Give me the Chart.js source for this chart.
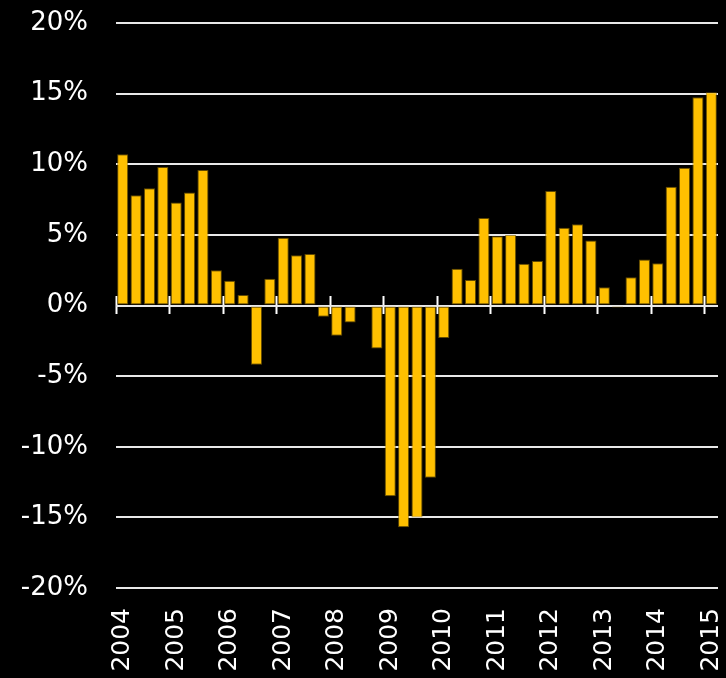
<!DOCTYPE html>
<html>
<head>
<meta charset="utf-8">
<script src="https://cdn.jsdelivr.net/npm/chart.js@4"></script>
<style>
html, body { margin: 0; padding: 0; background: #000; }
#wrap { width: 726px; height: 678px; }
</style>
</head>
<body>
<div id="wrap"><canvas id="growthChart" width="726" height="678"></canvas></div>
<script>
const years = ['2004', '2005', '2006', '2007', '2008', '2009', '2010', '2011', '2012', '2013', '2014', '2015'];
const quarters = ['Q1', 'Q2', 'Q3', 'Q4'];
const growth = [
    10.7, 7.8, 8.3, 9.8,
    7.3, 8.0, 9.6, 2.5,
    1.75, 0.75, -4.2, 1.9,
    4.8, 3.55, 3.65, -0.8,
    -2.15, -1.2, 0, -3.05,
    -13.5, -15.7, -15.0, -12.2,
    -2.3, 2.6, 1.8, 6.2,
    4.9, 5.0, 2.95, 3.15,
    8.1, 5.5, 5.75, 4.6,
    1.3, -0.15, 2.0, 3.25,
    3.0, 8.4, 9.75, 14.75,
    15.1
];
const yTicks = [-20, -15, -10, -5, 0, 5, 10, 15, 20];

const labels = [];
years.forEach(y => quarters.forEach(q => labels.push(y + ' ' + q)));
labels.length = growth.length;

const font = { family: 'DejaVu Sans', size: 26 };
const ctx = document.getElementById('growthChart').getContext('2d');

new Chart(ctx, {
    type: 'bar',
    data: {
        labels: labels,
        datasets: [{
            data: growth,
            backgroundColor: '#FFC000',
            borderColor: 'rgba(140, 105, 0, 0.7)',
            borderWidth: 1,
            borderSkipped: false,
            barPercentage: 0.83,
            categoryPercentage: 1.0
        }]
    },
    options: {
        responsive: false,
        animation: false,
        layout: { padding: 0 },
        plugins: {
            legend: { display: false },
            tooltip: { enabled: false }
        },
        scales: {
            x: {
                type: 'category',
                position: 'bottom',
                offset: true,
                grid: { display: false, offset: true },
                border: { display: false },
                ticks: {
                    color: '#fff',
                    font: { family: 'DejaVu Sans', size: 25 },
                    autoSkip: false,
                    minRotation: 90,
                    maxRotation: 90,
                    padding: 12,
                    callback: (v, i) => i % 4 === 0 ? labels[i].slice(0, 4) : ''
                },
                afterFit: s => { s.height = 90; s.paddingLeft = 0; s.paddingRight = 8; }
            },
            zero: {
                type: 'category',
                axis: 'x',
                position: { y: 0.64 },
                offset: true,
                grid: {
                    offset: true,
                    drawOnChartArea: false,
                    drawTicks: true,
                    tickLength: 18,
                    tickWidth: 2,
                    tickColor: c => c.index % 4 === 0 ? '#fff' : 'rgba(0,0,0,0)'
                },
                border: { display: false },
                ticks: { display: false }
            },
            y: {
                min: -20,
                max: 20,
                afterBuildTicks: s => { s.ticks = yTicks.map(v => ({ value: v })); },
                grid: { color: '#e8e8e8', lineWidth: 2, drawTicks: false },
                border: { display: false },
                ticks: {
                    color: '#fff',
                    font: font,
                    padding: 28,
                    callback: v => v + '%'
                },
                afterFit: s => { s.width = 116; s.paddingTop = 23; s.paddingBottom = 0; }
            }
        }
    }
});
</script>
</body>
</html>
